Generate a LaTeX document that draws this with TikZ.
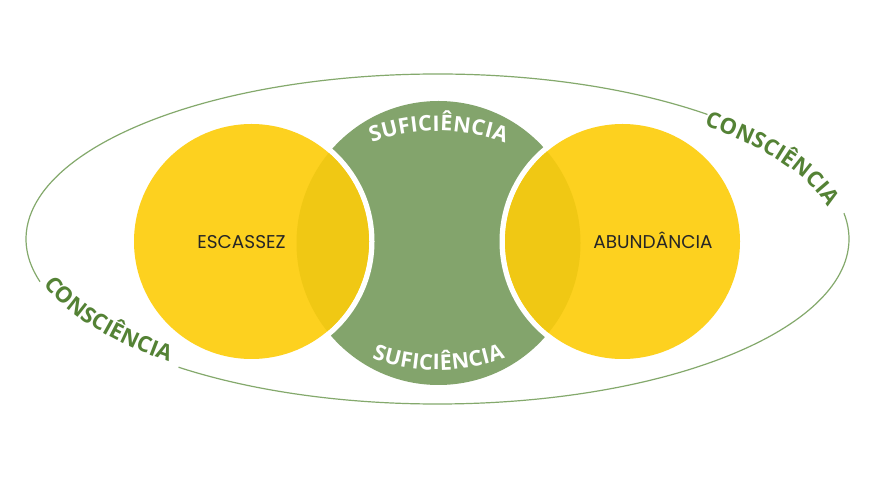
\documentclass[tikz,border=0pt]{standalone}
\usepackage{fontspec}
\newfontfamily\osfont{Open Sans}
\newfontfamily\popfont{Poppins}
\usetikzlibrary{decorations.text}
\definecolor{ygold}{HTML}{FDD11F}
\definecolor{ylens}{HTML}{F0C814}
\definecolor{gshape}{HTML}{83A46C}
\definecolor{gtext}{HTML}{548235}
\definecolor{gline}{HTML}{84A96C}
\definecolor{lbl}{HTML}{262626}
\begin{document}
\begin{tikzpicture}[x=1pt,y=1pt,
  ellline/.style={draw=gline,line width=1.2pt},
  circlbl/.style={text=lbl,anchor=base,font=\popfont\fontsize{18.5}{22}\selectfont,inner sep=0pt},
  sutext/.style={decorate,decoration={text along path,text align={fit to path},text color=white,
     text={|\osfont\bfseries\fontsize{21.5}{24}\selectfont|SUFICIÊNCIA}}},
  cotext/.style={decorate,decoration={text along path,text align={fit to path},text color=gtext,
     text={|\osfont\bfseries\fontsize{22}{24}\selectfont|CONSCIÊNCIA}}}
]
\useasboundingbox (0,0) rectangle (886,498);
\fill[white] (0,0) rectangle (886,498);
% outer ellipse (with gaps for the texts)
\draw[ellline] ([shift={(437.5,259)}]49:411.5 and 165) arc[start angle=49,end angle=195,x radius=411.5,y radius=165];
\draw[ellline] ([shift={(437.5,259)}]231:411.5 and 165) arc[start angle=231,end angle=369,x radius=411.5,y radius=165];
\path[cotext] ([shift={(437.5,259)}]48:398.5 and 152) arc[start angle=48,end angle=12,x radius=398.5,y radius=152];
\path[cotext] ([shift={(437.5,259)}]196:409.5 and 163) arc[start angle=196,end angle=229,x radius=409.5,y radius=163];
% green circle
\fill[gshape] (438.5,255) circle[radius=142];
% white gaps
\fill[white] (251.5,256.5) circle[radius=123];
\fill[white] (622.5,256.5) circle[radius=123];
% yellow circles
\fill[ygold] (251.5,256.5) circle[radius=117.5];
\fill[ygold] (622.5,256.5) circle[radius=117.5];
\begin{scope}
  \clip (438.5,255) circle[radius=142];
  \fill[ylens] (251.5,256.5) circle[radius=117.5];
  \fill[ylens] (622.5,256.5) circle[radius=117.5];
\end{scope}
% curved texts on green shape
\path[sutext] ([shift={(438.5,172)}]110:195) arc[start angle=110,end angle=70,radius=195];
\path[sutext] ([shift={(438.5,323)}]250:195) arc[start angle=250,end angle=290,radius=195];
% labels
\node[circlbl] (esc) at (241.5,249) {ESCASSEZ};
\node[circlbl] (abu) at (653,249) {ABUNDÂNCIA};
\end{tikzpicture}
\end{document}
